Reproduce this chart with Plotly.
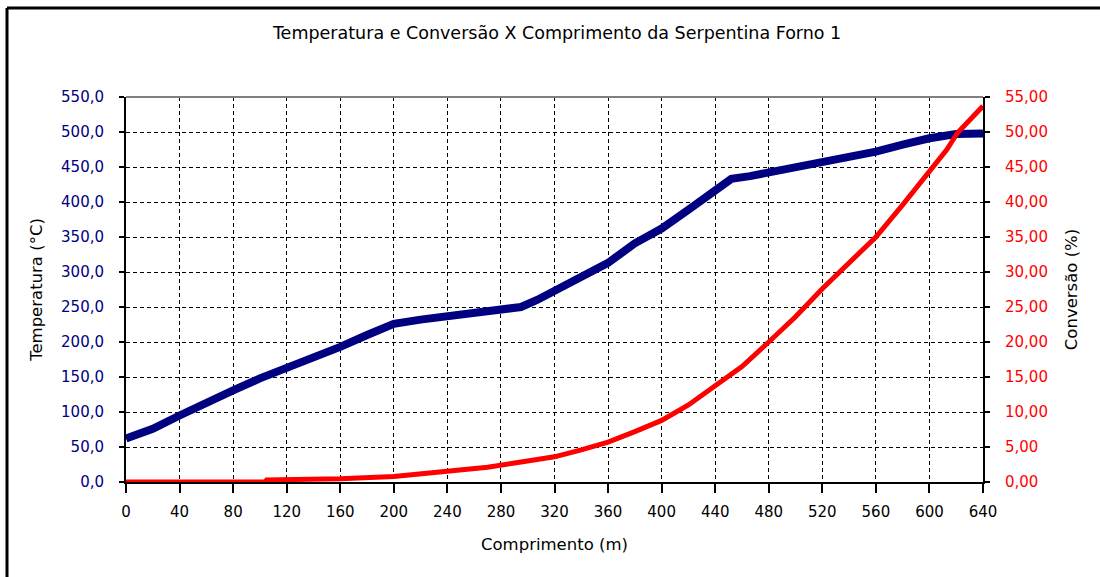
import plotly.graph_objects as go

# Coil length (m) and temperature (°C) along the furnace coil
length_temp = [0, 20, 40, 60, 80, 100, 120, 140, 160, 180, 200, 220, 240, 260,
               280, 295, 307, 320, 332, 347, 360, 380, 400, 420, 440, 452, 466,
               480, 500, 520, 540, 560, 580, 600, 620, 640]
temperature = [62, 76, 95, 114, 131, 148, 162, 176, 193, 210, 226, 232, 237, 243,
               247, 250, 260, 273, 286, 298, 313, 341, 362, 389, 415, 433, 437,
               442, 450, 458, 465, 472, 482, 491, 497, 498]

# Coil length (m) and conversion (%)
length_conv = [0, 40, 80, 104, 105, 160, 200, 220, 245, 270, 295, 320, 340, 360,
               380, 400, 420, 440, 460, 480, 500, 520, 540, 560, 580, 600, 613,
               621, 640]
conversion = [0, 0, 0, 0, 0.3, 0.45, 0.8, 1.15, 1.65, 2.1, 2.85, 3.6, 4.6, 5.7,
              7.2, 8.8, 11.0, 13.8, 16.5, 20.0, 23.6, 27.6, 31.4, 35.0, 39.6,
              44.5, 47.5, 49.9, 53.7]

x_ticks = list(range(0, 641, 40))
x_labels = [str(v) for v in x_ticks]
temp_ticks = list(range(0, 551, 50))
temp_labels = [f"{v},0" for v in temp_ticks]
conv_ticks = list(range(0, 56, 5))
conv_labels = [f"{v},00" for v in conv_ticks]

FONT = "DejaVu Sans"
NAVY = "#000080"
RED = "#FF0000"

fig = go.Figure()
fig.add_trace(go.Scatter(x=length_temp, y=temperature, mode="lines",
                         line=dict(color=NAVY, width=8), yaxis="y",
                         showlegend=False, hoverinfo="skip"))
fig.add_trace(go.Scatter(x=length_conv, y=conversion, mode="lines",
                         line=dict(color=RED, width=5), yaxis="y2",
                         showlegend=False, hoverinfo="skip"))

# plot area: x 126..983 px, y 97..482 px
L, R, T, B = 126, 117, 97, 95
W, H = 1100 - L - R, 577 - T - B

def px_x(px):
    return (px - L) / W

def px_y(py):
    return (577 - B - py) / H

shapes = [
    # top edge of the plot area
    dict(type="line", xref="paper", yref="paper", x0=0, x1=1, y0=1, y1=1,
         line=dict(color="#808080", width=2)),
    # outer chart frame (top and left edges)
    dict(type="line", xref="paper", yref="paper", x0=px_x(7), x1=px_x(1110),
         y0=px_y(8), y1=px_y(8), line=dict(color="black", width=3)),
    dict(type="line", xref="paper", yref="paper", x0=px_x(7), x1=px_x(7),
         y0=px_y(8), y1=px_y(590), line=dict(color="black", width=3)),
]

fig.update_layout(
    width=1100, height=577,
    margin=dict(l=L, r=R, t=T, b=B),
    paper_bgcolor="white", plot_bgcolor="white",
    font=dict(family=FONT, size=15, color="black"),
    title=dict(text="Temperatura e Conversão X Comprimento da Serpentina Forno 1",
               x=0.503, xref="paper", y=1 - 33 / 577, yanchor="middle",
               font=dict(family=FONT, size=17.5, color="black")),
    shapes=shapes,
    xaxis=dict(range=[0, 640], tickmode="array", tickvals=x_ticks, ticktext=x_labels,
               showgrid=True, gridcolor="black", gridwidth=1, griddash="4px,3px",
               showline=True, linecolor="black", linewidth=2, zeroline=False,
               ticks="outside", ticklen=9, tickwidth=2, tickcolor="black",
               ticklabelstandoff=6,
               tickfont=dict(family=FONT, size=15, color="black"),
               title=dict(text="Comprimento (m)", standoff=18,
                          font=dict(family=FONT, size=16.5, color="black"))),
    yaxis=dict(range=[0, 550], tickmode="array", tickvals=temp_ticks, ticktext=temp_labels,
               showgrid=True, gridcolor="black", gridwidth=1, griddash="4px,3px",
               showline=True, linecolor="black", linewidth=2, zeroline=False,
               ticks="outside", ticklen=5, tickwidth=2, tickcolor="black",
               ticklabelstandoff=12,
               tickfont=dict(family=FONT, size=15, color=NAVY),
               title=dict(text="Temperatura (°C)", standoff=14,
                          font=dict(family=FONT, size=16.5, color="black"))),
    yaxis2=dict(range=[0, 55], overlaying="y", side="right", tickmode="array",
                tickvals=conv_ticks, ticktext=conv_labels, showgrid=False,
                showline=True, linecolor="black", linewidth=2, zeroline=False,
                ticks="outside", ticklen=5, tickwidth=2, tickcolor="black",
                ticklabelstandoff=12,
                tickfont=dict(family=FONT, size=15, color=RED),
                title=dict(text="Conversão (%)", standoff=18,
                           font=dict(family=FONT, size=16.5, color="black"))),
)

fig.write_html("out.html", config={"displayModeBar": False})
